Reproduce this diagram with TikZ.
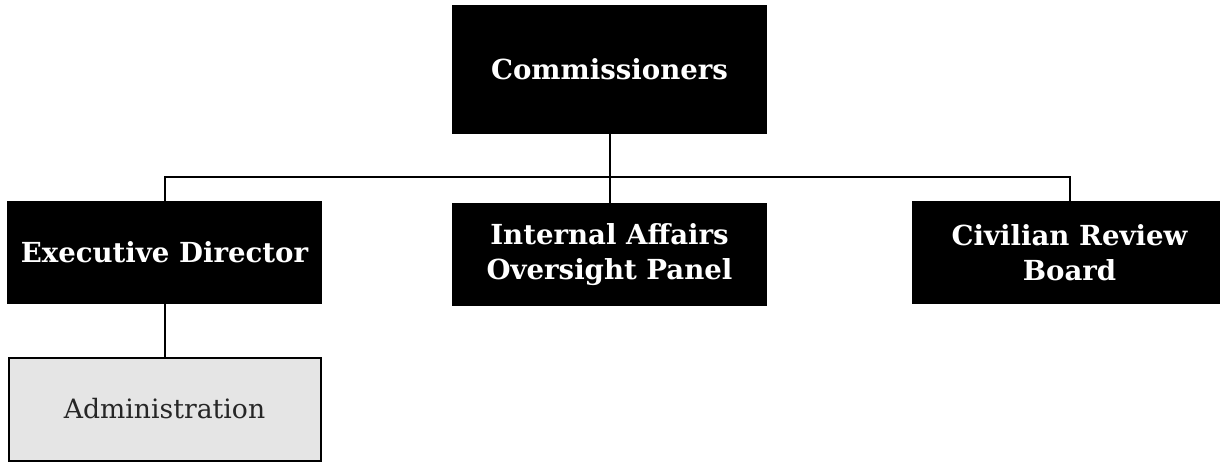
\documentclass[tikz,border=0pt]{standalone}
\usepackage{fontspec}
\setmainfont{DejaVu Serif}
\begin{document}
\begin{tikzpicture}[x=0.75pt,y=-0.75pt,
  darkbox/.style={fill=black, text=white, minimum width=315*0.75pt, inner sep=0pt,
    align=center, font=\bfseries\fontsize{20.7}{26}\selectfont},
  lightbox/.style={fill=black!10, draw=black, line width=1.5pt, minimum width=312*0.75pt,
    minimum height=103*0.75pt, inner sep=0pt, font=\fontsize{20}{26}\selectfont, text=black!85},
  link/.style={line width=1.5pt}]
\useasboundingbox (0,0) rectangle (1220,462);
\node[darkbox, minimum height=129*0.75pt] (comm) at (609.5,69.5){Commissioners};
\node[darkbox, minimum height=103*0.75pt] (exec) at (164.5,252.5){Executive Director};
\node[darkbox, minimum height=103*0.75pt] (iaop) at (609.5,254.5){Internal Affairs\\Oversight Panel};
\node[darkbox, minimum height=103*0.75pt] (crb) at (1069.5,252.5){Civilian Review\\Board};
\node[lightbox] (admin) at (164.5,409){Administration};
\coordinate (split) at (609.5,177);
\draw[link](comm) -- (split);
\draw[link](split) -| (exec);
\draw[link](split) -- (iaop);
\draw[link](split) -| (crb);
\draw[link](exec) -- (admin);
\end{tikzpicture}
\end{document}
